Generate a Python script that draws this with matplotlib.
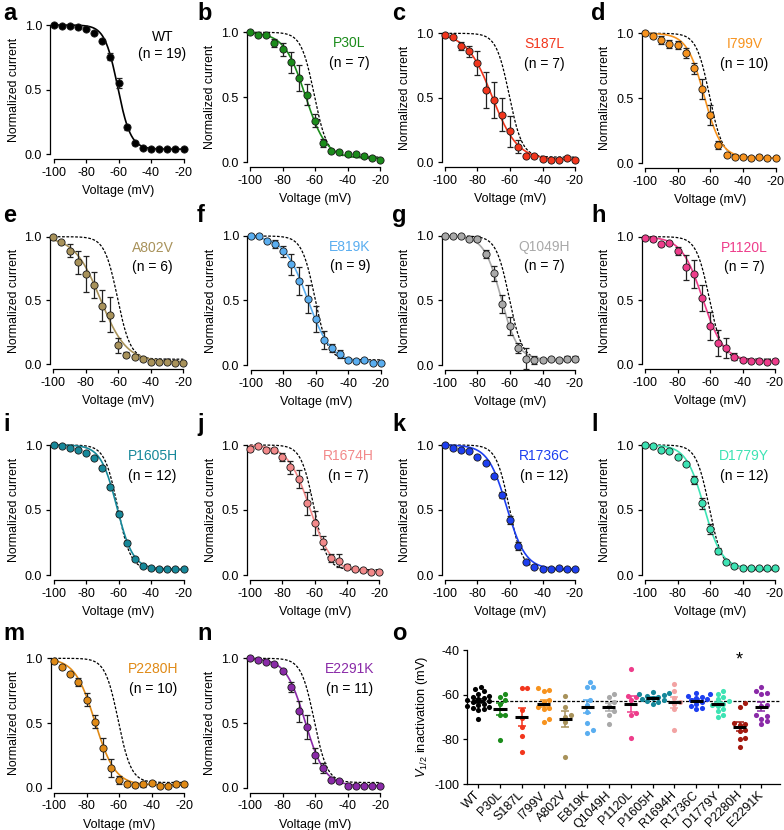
import numpy as np
import matplotlib
matplotlib.use('Agg')
import matplotlib.pyplot as plt

plt.rcParams['font.family'] = ['Liberation Sans', 'DejaVu Sans']
plt.rcParams['mathtext.fontset'] = 'custom'
plt.rcParams['mathtext.it'] = 'Liberation Sans:italic'
plt.rcParams['mathtext.rm'] = 'Liberation Sans'
plt.rcParams['axes.unicode_minus'] = False

# ---------------- data ----------------
voltages = [-100, -95, -90, -85, -80, -75, -70, -65, -60, -55, -50, -45, -40, -35, -30, -25, -20]

wt_mean = [1.00, 0.99, 0.99, 0.985, 0.97, 0.94, 0.88, 0.755, 0.55, 0.21, 0.085, 0.05, 0.04, 0.04, 0.04, 0.04, 0.04]
wt_sem = [0.005, 0.005, 0.005, 0.005, 0.01, 0.01, 0.015, 0.025, 0.04, 0.02, 0.01, 0.01, 0.005, 0.005, 0.005, 0.005, 0.005]

p30l_mean = [1.0, 0.98, 0.98, 0.92, 0.87, 0.77, 0.65, 0.52, 0.32, 0.15, 0.09, 0.08, 0.065, 0.06, 0.05, 0.035, 0.015]
p30l_sem = [0.005, 0.01, 0.01, 0.03, 0.05, 0.08, 0.10, 0.08, 0.05, 0.03, 0.01, 0.01, 0.01, 0.01, 0.01, 0.01, 0.005]

s187l_mean = [0.99, 0.97, 0.90, 0.86, 0.77, 0.56, 0.48, 0.37, 0.24, 0.12, 0.05, 0.045, 0.025, 0.015, 0.02, 0.03, 0.015]
s187l_sem = [0.005, 0.01, 0.03, 0.04, 0.09, 0.14, 0.14, 0.13, 0.12, 0.05, 0.01, 0.01, 0.01, 0.01, 0.01, 0.01, 0.01]

i799v_mean = [1.0, 0.98, 0.95, 0.92, 0.91, 0.85, 0.73, 0.57, 0.37, 0.14, 0.065, 0.05, 0.05, 0.04, 0.05, 0.04, 0.04]
i799v_sem = [0.005, 0.02, 0.03, 0.03, 0.03, 0.04, 0.04, 0.08, 0.08, 0.03, 0.01, 0.01, 0.01, 0.01, 0.01, 0.01, 0.01]

a802v_mean = [1.0, 0.955, 0.89, 0.80, 0.71, 0.62, 0.46, 0.39, 0.15, 0.075, 0.06, 0.04, 0.02, 0.02, 0.02, 0.01, 0.01]
a802v_sem = [0.005, 0.01, 0.05, 0.09, 0.14, 0.10, 0.12, 0.14, 0.06, 0.02, 0.01, 0.01, 0.01, 0.01, 0.02, 0.01, 0.01]

e819k_mean = [1.0, 1.0, 0.96, 0.94, 0.88, 0.78, 0.65, 0.51, 0.355, 0.195, 0.13, 0.085, 0.035, 0.03, 0.035, 0.015, 0.015]
e819k_sem = [0.005, 0.005, 0.01, 0.03, 0.04, 0.08, 0.11, 0.11, 0.10, 0.07, 0.03, 0.03, 0.01, 0.01, 0.01, 0.01, 0.01]

q1049h_mean = [1.0, 1.0, 1.0, 0.98, 0.98, 0.86, 0.71, 0.47, 0.30, 0.13, 0.05, 0.04, 0.035, 0.045, 0.04, 0.05, 0.05]
q1049h_sem = [0.005, 0.005, 0.005, 0.01, 0.02, 0.03, 0.06, 0.07, 0.07, 0.04, 0.08, 0.03, 0.01, 0.01, 0.01, 0.02, 0.02]

p1120l_mean = [0.99, 0.98, 0.94, 0.95, 0.89, 0.76, 0.71, 0.52, 0.30, 0.165, 0.13, 0.06, 0.035, 0.025, 0.025, 0.02, 0.025]
p1120l_sem = [0.005, 0.01, 0.01, 0.01, 0.03, 0.10, 0.11, 0.10, 0.11, 0.10, 0.08, 0.03, 0.01, 0.01, 0.01, 0.01, 0.01]

p1605h_mean = [1.0, 0.99, 0.98, 0.965, 0.94, 0.90, 0.825, 0.68, 0.47, 0.245, 0.12, 0.07, 0.05, 0.045, 0.045, 0.045, 0.045]
p1605h_sem = [0.005, 0.005, 0.005, 0.005, 0.005, 0.005, 0.01, 0.01, 0.02, 0.015, 0.01, 0.005, 0.005, 0.005, 0.005, 0.005, 0.005]

r1674h_mean = [0.97, 0.99, 0.96, 0.96, 0.91, 0.83, 0.74, 0.55, 0.40, 0.25, 0.13, 0.11, 0.065, 0.045, 0.035, 0.025, 0.025]
r1674h_sem = [0.02, 0.005, 0.01, 0.02, 0.03, 0.05, 0.07, 0.09, 0.09, 0.05, 0.03, 0.05, 0.02, 0.01, 0.01, 0.01, 0.01]

r1736c_mean = [1.0, 0.98, 0.965, 0.95, 0.91, 0.86, 0.76, 0.615, 0.42, 0.225, 0.10, 0.06, 0.045, 0.045, 0.05, 0.045, 0.045]
r1736c_sem = [0.005, 0.005, 0.005, 0.005, 0.01, 0.01, 0.01, 0.02, 0.03, 0.03, 0.01, 0.01, 0.005, 0.005, 0.005, 0.005, 0.005]

d1779y_mean = [1.0, 0.99, 0.965, 0.955, 0.91, 0.855, 0.73, 0.55, 0.355, 0.185, 0.10, 0.07, 0.055, 0.05, 0.05, 0.05, 0.05]
d1779y_sem = [0.005, 0.005, 0.005, 0.005, 0.01, 0.01, 0.03, 0.04, 0.04, 0.02, 0.01, 0.005, 0.005, 0.005, 0.005, 0.005, 0.005]

p2280h_mean = [0.98, 0.93, 0.88, 0.815, 0.68, 0.51, 0.305, 0.155, 0.06, 0.025, 0.02, 0.025, 0.035, 0.015, 0.01, 0.025, 0.025]
p2280h_sem = [0.005, 0.01, 0.01, 0.03, 0.05, 0.05, 0.08, 0.07, 0.03, 0.01, 0.01, 0.02, 0.01, 0.01, 0.01, 0.01, 0.01]

e2291k_mean = [1.0, 0.985, 0.97, 0.955, 0.90, 0.78, 0.59, 0.47, 0.25, 0.15, 0.06, 0.05, 0.015, 0.015, 0.015, 0.015, 0.015]
e2291k_sem = [0.005, 0.005, 0.005, 0.005, 0.01, 0.04, 0.08, 0.09, 0.06, 0.04, 0.01, 0.01, 0.01, 0.01, 0.01, 0.01, 0.01]

# Boltzmann fit parameters (V1/2, slope k, bottom)
fit_vhalf = [-60.5, -66.0, -71.0, -63.8, -71.0, -65.0, -65.5, -64.5, -61.0, -63.0, -62.0, -63.7, -74.8, -66.0]
fit_slope = [4.0, 6.5, 7.8, 5.3, 8.0, 7.2, 5.2, 6.5, 5.0, 6.8, 5.8, 5.5, 6.2, 6.0]
fit_bottom = [0.04, 0.03, 0.02, 0.04, 0.02, 0.02, 0.04, 0.025, 0.045, 0.025, 0.045, 0.05, 0.02, 0.015]

panel_names = ['WT', 'P30L', 'S187L', 'I799V', 'A802V', 'E819K', 'Q1049H', 'P1120L',
               'P1605H', 'R1674H', 'R1736C', 'D1779Y', 'P2280H', 'E2291K']
panel_n = [19, 7, 7, 10, 6, 9, 7, 7, 12, 7, 12, 12, 10, 11]
panel_colors = ['#000000', '#1b8c1b', '#f2361d', '#f7931e', '#a8925a', '#5aaef0', '#a9a9a9',
                '#ee3d8b', '#16889a', '#f2898a', '#1d3ff0', '#3de3b4', '#e08a16', '#8a2aa8']
panel_letters = list('abcdefghijklmn')

# Panel o: V1/2 of inactivation per cell
o_categories = ['WT', 'P30L', 'S187L', 'I799V', 'A802V', 'E819K', 'Q1049H', 'P1120L',
                'P1605H', 'R1694H', 'R1736C', 'D1779Y', 'P2280H', 'E2291K']
o_colors = ['#000000', '#1b8c1b', '#f2361d', '#f7931e', '#a8925a', '#5aaef0', '#a9a9a9',
            '#ee3d8b', '#16889a', '#f2a3a3', '#1d3ff0', '#3de3b4', '#a3190f', '#8a2aa8']
o_wt = [-56.5, -57.5, -58.5, -59.5, -60.5, -61, -61.5, -62, -62.5, -63, -63.5, -64, -64.5, -65, -65.5, -66, -66.5, -67, -70.8]
o_p30l = [-59.7, -61.2, -62.5, -64, -69.3, -68.9, -80.1]
o_s187l = [-57.2, -57.2, -66.9, -70.5, -74.6, -78.5, -85.5]
o_i799v = [-57.2, -58, -58.5, -62.4, -63.1, -65.5, -66.1, -66.5, -71, -72.1]
o_a802v = [-60.7, -65.5, -69, -70, -72.3, -87.9]
o_e819k = [-54.5, -56.4, -56.7, -62.4, -64.5, -67.9, -72.6, -76, -77.2]
o_q1049h = [-59.7, -61.2, -63.4, -64.9, -67.1, -68.9, -73]
o_p1120l = [-48.6, -60.4, -61.2, -62.5, -68.3, -68.9, -79.3]
o_p1605h = [-59, -59.3, -59.8, -60.2, -60.5, -61, -61.5, -62, -62.5, -63, -63.5, -64]
o_r1694h = [-55, -58.5, -61.5, -63.5, -64, -66.4, -75.6]
o_r1736c = [-59.2, -59.8, -60.5, -61, -61.5, -62, -62.5, -63.5, -64, -65, -66, -66.4]
o_d1779y = [-58.3, -59.5, -61, -62, -63, -64, -64.5, -65, -66.5, -67.5, -69, -69.8]
o_p2280h = [-63.9, -65.3, -72.7, -73, -73.5, -76, -76.2, -79.3, -79.7, -83.4]
o_e2291k = [-56.7, -58.5, -59.4, -59.5, -64.5, -65, -69.3, -69.5, -70.8, -71.9, -73.3]
o_significant = ['P2280H']

# ---------------- layout (pixel boxes) ----------------
W, H = 784, 830
fig = plt.figure(figsize=(W / 100, H / 100), dpi=100)

# (x at -100, x at -20, y at 1.0, y at 0.0)
boxes = [
    (53.5, 183.5, 25, 154.3), (250, 380, 32.3, 162.3), (445, 575, 33.3, 162.3), (645, 775.5, 33.3, 163),
    (53.3, 183.3, 236.7, 364.3), (250.7, 380.7, 236, 365), (445, 575, 236, 365), (645, 775, 236.7, 364.3),
    (53.5, 183.5, 445, 575), (250, 379.5, 445, 575), (445, 575, 445, 575), (645, 775, 445, 575),
    (54, 184, 658.3, 787.7), (250, 380, 658.3, 787.7),
]
letter_pos = [
    (3, 20), (197, 20), (392, 20), (591, 20),
    (3, 222), (197, 222), (392, 222), (591, 222),
    (3, 431), (197, 431), (392, 431), (591, 431),
    (3, 640), (197, 640),
]

def axes_from_px(x0, x1, ytop, ybot):
    return fig.add_axes([x0 / W, 1 - ybot / H, (x1 - x0) / W, (ybot - ytop) / H])

def boltz(v, vh, k, b):
    v = np.asarray(v, dtype=float)
    return b + (1 - b) / (1 + np.exp((v - vh) / k))

means = [wt_mean, p30l_mean, s187l_mean, i799v_mean, a802v_mean, e819k_mean, q1049h_mean,
         p1120l_mean, p1605h_mean, r1674h_mean, r1736c_mean, d1779y_mean, p2280h_mean, e2291k_mean]
sems = [wt_sem, p30l_sem, s187l_sem, i799v_sem, a802v_sem, e819k_sem, q1049h_sem,
        p1120l_sem, p1605h_sem, r1674h_sem, r1736c_sem, d1779y_sem, p2280h_sem, e2291k_sem]

vfine = np.linspace(-100, -20, 400)
wt_fit = boltz(vfine, fit_vhalf[0], fit_slope[0], fit_bottom[0])

def style_axes(ax):
    for s in ['top', 'right']:
        ax.spines[s].set_visible(False)
    for s in ['left', 'bottom']:
        ax.spines[s].set_linewidth(0.9)
    ax.tick_params(direction='out', length=3.2, width=0.9, labelsize=9, pad=2.5, colors='black')

for i in range(14):
    ax = axes_from_px(*boxes[i])
    style_axes(ax)
    ax.spines['left'].set_position(('outward', 2.5))
    ax.spines['bottom'].set_position(('outward', 3.5))
    ax.set_xlim(-100, -20)
    ax.set_ylim(0, 1)
    ax.set_xticks([-100, -80, -60, -40, -20])
    ax.set_yticks([0.0, 0.5, 1.0])
    ax.set_yticklabels(['0.0', '0.5', '1.0'])
    col = panel_colors[i]
    fit = boltz(vfine, fit_vhalf[i], fit_slope[i], fit_bottom[i])
    if i > 0:
        ax.plot(vfine, wt_fit, color='black', lw=0.9, ls=(0, (2.2, 1.3)), zorder=2, clip_on=False)
    ax.plot(vfine, fit, color=col, lw=1.2, zorder=3, clip_on=False)
    ax.errorbar(voltages, means[i], yerr=sems[i], fmt='none', ecolor='#222222', elinewidth=0.9,
                capsize=2.3, capthick=0.9, zorder=4, clip_on=False)
    ax.plot(voltages, means[i], 'o', ms=5.2, mfc=col, mec='#1a1a1a', mew=0.6, zorder=5, clip_on=False)
    ax.text(0.5, -0.285, 'Voltage (mV)', transform=ax.transAxes, ha='center', va='center', fontsize=9)
    ax.text(-0.305, 0.5, 'Normalized current', transform=ax.transAxes, ha='center', va='center',
            rotation=90, fontsize=8.8)
    if i == 0:
        lx, ly1, ly2 = -33, 0.905, 0.775
    else:
        lx, ly1, ly2 = -39, 0.915, 0.765
    ax.text(lx, ly1, panel_names[i], color=col, fontsize=10, ha='center', va='center')
    ax.text(lx, ly2, '(n = %d)' % panel_n[i], color='black', fontsize=10, ha='center', va='center')
    fig.text(letter_pos[i][0] / W, 1 - letter_pos[i][1] / H, panel_letters[i], fontsize=17,
             fontweight='bold', ha='left', va='baseline')

# ---------------- panel o ----------------
ox0, ox1, oy_top, oy_bot = 467.3, 780, 650, 784
axo = axes_from_px(ox0, ox1, oy_top, oy_bot)
style_axes(axo)
axo.set_xlim(-0.5, 13.85)
axo.set_ylim(-100, -40)
axo.set_yticks([-100, -80, -60, -40])
axo.set_xticks(range(len(o_categories)))
axo.set_xticklabels(o_categories, rotation=45, ha='right', va='center', rotation_mode='anchor',
                    fontsize=9)
axo.tick_params(axis='x', pad=3.5)
axo.tick_params(axis='y', pad=2.5)

groups = [o_wt, o_p30l, o_s187l, o_i799v, o_a802v, o_e819k, o_q1049h, o_p1120l,
          o_p1605h, o_r1694h, o_r1736c, o_d1779y, o_p2280h, o_e2291k]

px_per_cat = (ox1 - ox0) / 14.35
px_per_mv = (oy_bot - oy_top) / 60.0
diam_px = 5.0
xd = diam_px / px_per_cat
yd = diam_px / px_per_mv

def swarm(vals):
    placed = []
    offs = [0.0] * len(vals)
    order = np.argsort(vals)
    step = xd * 0.55
    for idx in order:
        v = vals[idx]
        chosen = 0.0
        found = False
        for k in range(0, 30):
            cands = [0.0] if k == 0 else [k * step, -k * step]
            for c in cands:
                if all(((c - px) / xd) ** 2 + ((v - py) / yd) ** 2 >= 1.0 for px, py in placed):
                    chosen = c
                    found = True
                    break
            if found:
                break
        placed.append((chosen, v))
        offs[idx] = chosen
    return offs

wt_group_mean = np.mean(o_wt)
axo.axhline(wt_group_mean, color='black', lw=0.9, ls=(0, (2.5, 1.3)), zorder=1)

for gi, vals in enumerate(groups):
    vals_arr = np.array(vals)
    offs = swarm(vals)
    xs = gi + np.array(offs)
    col = o_colors[gi]
    axo.plot(xs, vals_arr, 'o', ms=3.7, mfc=col, mec=col, mew=0, zorder=3, clip_on=False)
    m = vals_arr.mean()
    sem = vals_arr.std(ddof=1) / np.sqrt(len(vals_arr))
    axo.errorbar([gi], [m], yerr=[sem], fmt='none', ecolor=col, elinewidth=1.1, capsize=3,
                 capthick=1.1, zorder=4)
    axo.plot([gi - 0.3, gi + 0.3], [m, m], color='black', lw=2.2, zorder=5, solid_capstyle='butt')
    if o_categories[gi] in o_significant:
        axo.text(gi, -44.5, '*', ha='center', va='center', fontsize=13, color='black')

axo.set_ylabel(r'$V_{1/2}$ inactivation (mV)', fontsize=9.3, labelpad=3)
fig.text(392 / W, 1 - 640 / H, 'o', fontsize=17, fontweight='bold', ha='left', va='baseline')

fig.savefig('out.png', dpi=100)
